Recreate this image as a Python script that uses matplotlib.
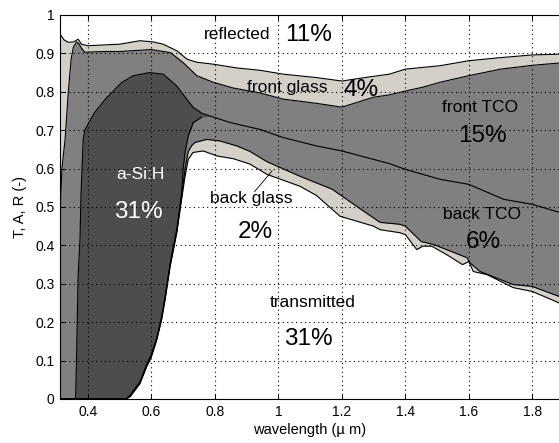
import numpy as np
import matplotlib
matplotlib.use("Agg")
import matplotlib.pyplot as plt

plt.rcParams['font.family'] = ['Liberation Sans', 'DejaVu Sans']

# boundaries of the stacked absorption areas (wavelength in um, cumulative fraction)
# top of front glass = 1 - R
w_refl = [0.312, 0.325, 0.338, 0.355, 0.369, 0.38, 0.40, 0.45, 0.50, 0.564, 0.605, 0.637,
          0.68, 0.712, 0.743, 0.794, 0.87, 0.942, 1.015, 1.12, 1.20, 1.28, 1.35, 1.40,
          1.51, 1.60, 1.70, 1.80, 1.885]
v_refl = [0.950, 0.935, 0.929, 0.930, 0.937, 0.924, 0.920, 0.922, 0.924, 0.933, 0.930, 0.924,
          0.907, 0.885, 0.877, 0.872, 0.862, 0.856, 0.846, 0.837, 0.828, 0.838, 0.846, 0.859,
          0.868, 0.881, 0.889, 0.896, 0.898]

# top of front TCO
w_fglass = [0.312, 0.313, 0.318, 0.328, 0.338, 0.347, 0.354, 0.364, 0.372, 0.38, 0.39, 0.45,
            0.50, 0.60, 0.66, 0.70, 0.743, 0.794, 0.857, 0.942, 1.015, 1.12, 1.20, 1.30,
            1.35, 1.40, 1.455, 1.51, 1.60, 1.70, 1.80, 1.885]
v_fglass = [0.33, 0.50, 0.60, 0.676, 0.798, 0.885, 0.916, 0.930, 0.925, 0.913, 0.903, 0.905,
            0.905, 0.910, 0.902, 0.876, 0.842, 0.825, 0.810, 0.797, 0.781, 0.770, 0.760, 0.786,
            0.792, 0.802, 0.812, 0.825, 0.842, 0.859, 0.869, 0.875]

# top of a-Si:H
w_fTCO = [0.312, 0.361, 0.364, 0.369, 0.375, 0.378, 0.385, 0.39, 0.42, 0.454, 0.506, 0.543,
          0.595, 0.637, 0.68, 0.712, 0.731, 0.759, 0.785, 0.848, 0.942, 1.015, 1.12, 1.20,
          1.30, 1.35, 1.40, 1.51, 1.60, 1.71, 1.80, 1.885]
v_fTCO = [0.0, 0.0, 0.10, 0.32, 0.415, 0.528, 0.676, 0.700, 0.745, 0.780, 0.824, 0.842,
          0.850, 0.846, 0.815, 0.780, 0.760, 0.744, 0.737, 0.720, 0.702, 0.681, 0.659, 0.646,
          0.624, 0.613, 0.598, 0.572, 0.559, 0.520, 0.507, 0.486]

# bottom of a-Si:H (= top of back TCO), below 0.785 um
w_asi = [0.312, 0.52, 0.533, 0.564, 0.585, 0.60, 0.617, 0.632, 0.643, 0.659, 0.68, 0.695,
         0.70, 0.706, 0.716, 0.732, 0.758]
v_asi = [0.0, 0.0, 0.010, 0.045, 0.090, 0.116, 0.160, 0.213, 0.266, 0.353, 0.442, 0.535,
         0.600, 0.642, 0.685, 0.720, 0.734]

# top of back glass
w_bTCO = [0.312, 0.52, 0.533, 0.564, 0.585, 0.60, 0.617, 0.632, 0.643, 0.659, 0.68, 0.695,
          0.706, 0.716, 0.727, 0.737, 0.774, 0.816, 0.869, 0.91, 0.964, 1.068, 1.17, 1.215,
          1.246, 1.32, 1.383, 1.40, 1.45, 1.49, 1.53, 1.594, 1.603, 1.635, 1.74, 1.80, 1.885]
v_bTCO = [0.0, 0.0, 0.008, 0.043, 0.087, 0.113, 0.157, 0.210, 0.262, 0.350, 0.438, 0.525,
          0.600, 0.645, 0.660, 0.668, 0.676, 0.672, 0.659, 0.645, 0.618, 0.580, 0.546, 0.520,
          0.502, 0.460, 0.455, 0.450, 0.410, 0.402, 0.389, 0.368, 0.355, 0.332, 0.298, 0.293,
          0.267]

# transmitted
w_trans = [0.312, 0.52, 0.533, 0.564, 0.585, 0.60, 0.617, 0.632, 0.643, 0.659, 0.68, 0.695,
           0.706, 0.716, 0.731, 0.763, 0.806, 0.857, 0.91, 0.964, 1.068, 1.12, 1.194, 1.30,
           1.32, 1.383, 1.40, 1.436, 1.455, 1.483, 1.53, 1.58, 1.60, 1.614, 1.657, 1.74,
           1.80, 1.885]
v_trans = [0.0, 0.0, 0.006, 0.040, 0.084, 0.110, 0.154, 0.206, 0.258, 0.345, 0.433, 0.520,
           0.580, 0.624, 0.642, 0.646, 0.633, 0.626, 0.612, 0.585, 0.554, 0.530, 0.476, 0.450,
           0.441, 0.433, 0.428, 0.389, 0.398, 0.398, 0.376, 0.350, 0.358, 0.332, 0.324, 0.290,
           0.280, 0.250]

labels = [("reflected", 0.870, 0.950, 12.5, "k"), ("11%", 1.096, 0.948, 17.5, "k"),
          ("front glass", 1.027, 0.812, 12.5, "k"), ("4%", 1.260, 0.804, 17.5, "k"),
          ("front TCO", 1.635, 0.760, 12.5, "k"), ("15%", 1.644, 0.684, 17.5, "k"),
          ("back TCO", 1.641, 0.480, 12.5, "k"), ("6%", 1.644, 0.410, 17.5, "k"),
          ("back glass", 0.914, 0.522, 12.5, "k"), ("2%", 0.926, 0.436, 17.5, "k"),
          ("transmitted", 1.109, 0.251, 12.5, "k"), ("31%", 1.093, 0.157, 17.5, "k"),
          ("a-Si:H", 0.564, 0.585, 12.5, "w"), ("31%", 0.558, 0.486, 17.5, "w")]

light = "#d4d0c8"
mid = "#808080"
dark = "#4d4d4d"

# back TCO top: a-Si:H bottom, then a-Si:H top once absorption in a-Si:H is gone
w_fTCO_a = np.array(w_fTCO)
v_fTCO_a = np.array(v_fTCO)
w_btop = np.concatenate([w_asi, w_fTCO_a[w_fTCO_a >= 0.785]])
v_btop = np.concatenate([v_asi, v_fTCO_a[w_fTCO_a >= 0.785]])

fig = plt.figure(figsize=(5.59, 4.43), dpi=100)
ax = fig.add_axes([60 / 559, 44 / 443, 499 / 559, 384 / 443])

ax.fill_between(w_refl, v_refl, 0, color=light, lw=0)
ax.fill_between(w_fglass, v_fglass, 0, color=mid, lw=0)
ax.fill_between(w_fTCO, v_fTCO, 0, color=dark, lw=0)
ax.fill_between(w_btop, v_btop, 0, color=mid, lw=0)
ax.fill_between(w_bTCO, v_bTCO, 0, color=light, lw=0)
ax.fill_between(w_trans, v_trans, 0, color="white", lw=0)

for wx, vy in [(w_refl, v_refl), (w_fglass, v_fglass), (w_fTCO, v_fTCO),
               (w_asi, v_asi), (w_bTCO, v_bTCO), (w_trans, v_trans)]:
    ax.plot(wx, vy, color="k", lw=0.8)

# pointer for back glass
ax.plot([0.925, 0.98], [0.54, 0.594], color="k", lw=0.6)

for txt, x, y, fs, c in labels:
    ax.text(x, y, txt, fontsize=fs, color=c, ha="center", va="center")

ax.set_xlim(0.312, 1.884)
ax.set_ylim(0, 1)
ax.set_xticks([0.4, 0.6, 0.8, 1.0, 1.2, 1.4, 1.6, 1.8])
ax.set_xticklabels(["0.4", "0.6", "0.8", "1", "1.2", "1.4", "1.6", "1.8"])
ax.set_yticks(np.arange(0, 1.01, 0.1))
ax.set_yticklabels(["0", "0.1", "0.2", "0.3", "0.4", "0.5", "0.6", "0.7", "0.8", "0.9", "1"])
ax.tick_params(direction="in", length=3.5, width=0.7, labelsize=10, top=True, pad=4)
ax.grid(True, linestyle=(0, (1, 3)), color="k", linewidth=0.8)
ax.set_axisbelow(False)
ax.spines["right"].set_visible(False)
for s in ["left", "top", "bottom"]:
    ax.spines[s].set_linewidth(0.8)

ax.set_xlabel("wavelength (\u00b5 m)", fontsize=10.5, labelpad=3)
ax.set_ylabel("T, A, R (-)", fontsize=10.5, labelpad=6)

fig.savefig("out.png", dpi=100)
